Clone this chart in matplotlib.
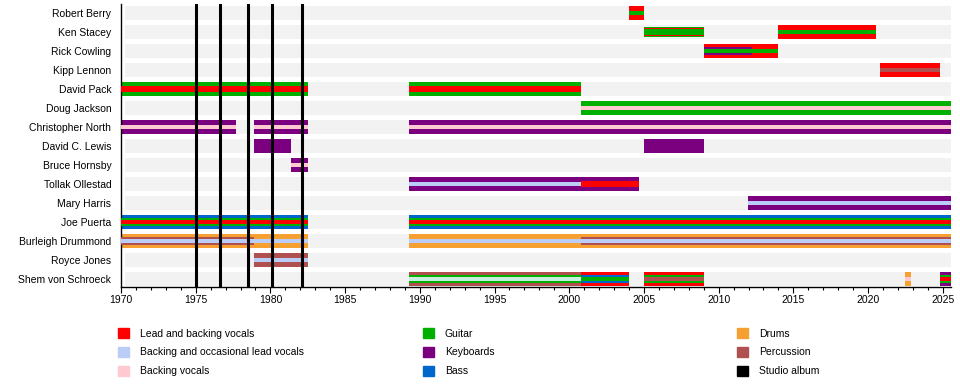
import matplotlib.pyplot as plt
from matplotlib.patches import Patch

# colours per role
RED = '#ff0000'      # lead and backing vocals
LBLUE = '#b9cdf7'    # backing and occasional lead vocals
PINK = '#ffc9d2'     # backing vocals
GREEN = '#00b000'    # guitar
PURPLE = '#7a0080'   # keyboards
BLUE = '#0066cc'     # bass
ORANGE = '#f5a030'   # drums
BROWN = '#b05050'    # percussion

members = ['Robert Berry', 'Ken Stacey', 'Rick Cowling', 'Kipp Lennon', 'David Pack',
           'Doug Jackson', 'Christopher North', 'David C. Lewis', 'Bruce Hornsby',
           'Tollak Ollestad', 'Mary Harris', 'Joe Puerta', 'Burleigh Drummond',
           'Royce Jones', 'Shem von Schroeck']

END = 2025.55

# (start, end, colours from outer to inner)
spans = {
    'Robert Berry': [(2004.0, 2005.0, [RED, GREEN])],
    'Ken Stacey': [(2005.0, 2009.0, [GREEN, RED, GREEN]), (2014.0, 2020.5, [RED, GREEN])],
    'Rick Cowling': [(2009.0, 2012.2, [RED, PURPLE, GREEN]), (2012.2, 2014.0, [RED, GREEN])],
    'Kipp Lennon': [(2020.8, 2024.8, [RED, BROWN])],
    'David Pack': [(1970.0, 1982.5, [GREEN, RED]), (1989.25, 2000.77, [GREEN, RED])],
    'Doug Jackson': [(2000.77, END, [GREEN, PINK])],
    'Christopher North': [(1970.0, 1977.7, [PURPLE, PINK]), (1978.9, 1982.5, [PURPLE, PINK]),
                          (1989.25, END, [PURPLE, PINK])],
    'David C. Lewis': [(1978.9, 1981.4, [PURPLE]), (2005.0, 2009.0, [PURPLE])],
    'Bruce Hornsby': [(1981.4, 1982.5, [PURPLE, PINK])],
    'Tollak Ollestad': [(1989.25, 2000.77, [PURPLE, LBLUE]), (2000.77, 2004.7, [PURPLE, RED])],
    'Mary Harris': [(2011.95, END, [PURPLE, LBLUE])],
    'Joe Puerta': [(1970.0, 1982.5, [BLUE, GREEN, RED]), (1989.25, END, [BLUE, GREEN, RED])],
    'Burleigh Drummond': [(1970.0, 1978.9, [ORANGE, BROWN, LBLUE]), (1978.9, 1982.5, [ORANGE, ORANGE, LBLUE]),
                          (1989.25, 2000.77, [ORANGE, ORANGE, LBLUE]), (2000.77, END, [ORANGE, BROWN, LBLUE])],
    'Royce Jones': [(1978.9, 1982.5, [BROWN, LBLUE])],
    'Shem von Schroeck': [(1989.25, 2000.77, [BROWN, GREEN, '#c8f0e0']), (2000.77, 2004.0, [RED, BLUE, GREEN]),
                          (2005.0, 2009.0, [RED, GREEN, BROWN]), (2022.5, 2022.85, [ORANGE, PINK]),
                          (2024.8, END, [PURPLE, GREEN, RED])],
}

albums = [1975.0, 1976.6, 1978.5, 1980.1, 1982.1]

legend_labels = ['Lead and backing vocals', 'Backing and occasional lead vocals', 'Backing vocals',
                 'Guitar', 'Keyboards', 'Bass', 'Drums', 'Percussion', 'Studio album']
legend_colors = [RED, LBLUE, PINK, GREEN, PURPLE, BLUE, ORANGE, BROWN, 'black']

fig = plt.figure(figsize=(9.6, 3.85), dpi=100)
ax = fig.add_axes([121 / 960, 98 / 385, 830 / 960, 283 / 385])

for i, name in enumerate(members):
    ax.barh(i, END - 1970.25, left=1970.25, height=0.72, color='#f2f2f2', zorder=1)
    for start, stop, cols in spans[name]:
        # two-colour bars get a thin inner stripe, three-colour bars nest
        if len(cols) == 2:
            hs = [0.74, 0.3 if cols[1] == RED else 0.22]
        else:
            hs = [0.74, 0.42, 0.2]
        if name == 'Ken Stacey' and start == 2005.0:
            hs = [0.55, 0.42, 0.3]
        for k, c in enumerate(cols):
            ax.barh(i, stop - start, left=start, height=hs[k], color=c, zorder=2 + k)

for a in albums:
    ax.axvline(a, color='black', lw=2.2, zorder=10)

ax.set_xlim(1970, END)
ax.set_ylim(14.42, -0.47)
ax.set_yticks(range(len(members)))
ax.set_yticklabels(members, fontsize=7.5, family=['Liberation Sans', 'DejaVu Sans'])
ax.tick_params(axis='y', length=0, pad=7)
ax.set_xticks(range(1970, 2026, 5))
ax.set_xticks(range(1970, 2026), minor=True)
ax.set_xticklabels([str(y) for y in range(1970, 2026, 5)], fontsize=7.5,
                   family=['Liberation Sans Narrow', 'Liberation Sans'])
ax.tick_params(axis='x', which='major', length=4, width=0.8, pad=1.5)
ax.tick_params(axis='x', which='minor', length=2, width=0.8)
for s in ['top', 'right']:
    ax.spines[s].set_visible(False)
ax.spines['left'].set_linewidth(1)
ax.spines['bottom'].set_linewidth(1)

# three legend columns, each placed on its own
col_x = [118, 423, 737]
for j in range(3):
    handles = [Patch(color=c, label=l) for c, l in
               zip(legend_colors[3 * j:3 * j + 3], legend_labels[3 * j:3 * j + 3])]
    leg = fig.legend(handles=handles, ncol=1, loc='upper left',
                     bbox_to_anchor=(col_x[j] / 960, 1 - 328 / 385),
                     frameon=False, handlelength=1.1, handleheight=1.1, handletextpad=1.0,
                     labelspacing=0.8, borderpad=0, borderaxespad=0,
                     prop={'family': ['Liberation Sans Narrow', 'Liberation Sans'], 'size': 7.5})

fig.savefig('out.png', dpi=100)
